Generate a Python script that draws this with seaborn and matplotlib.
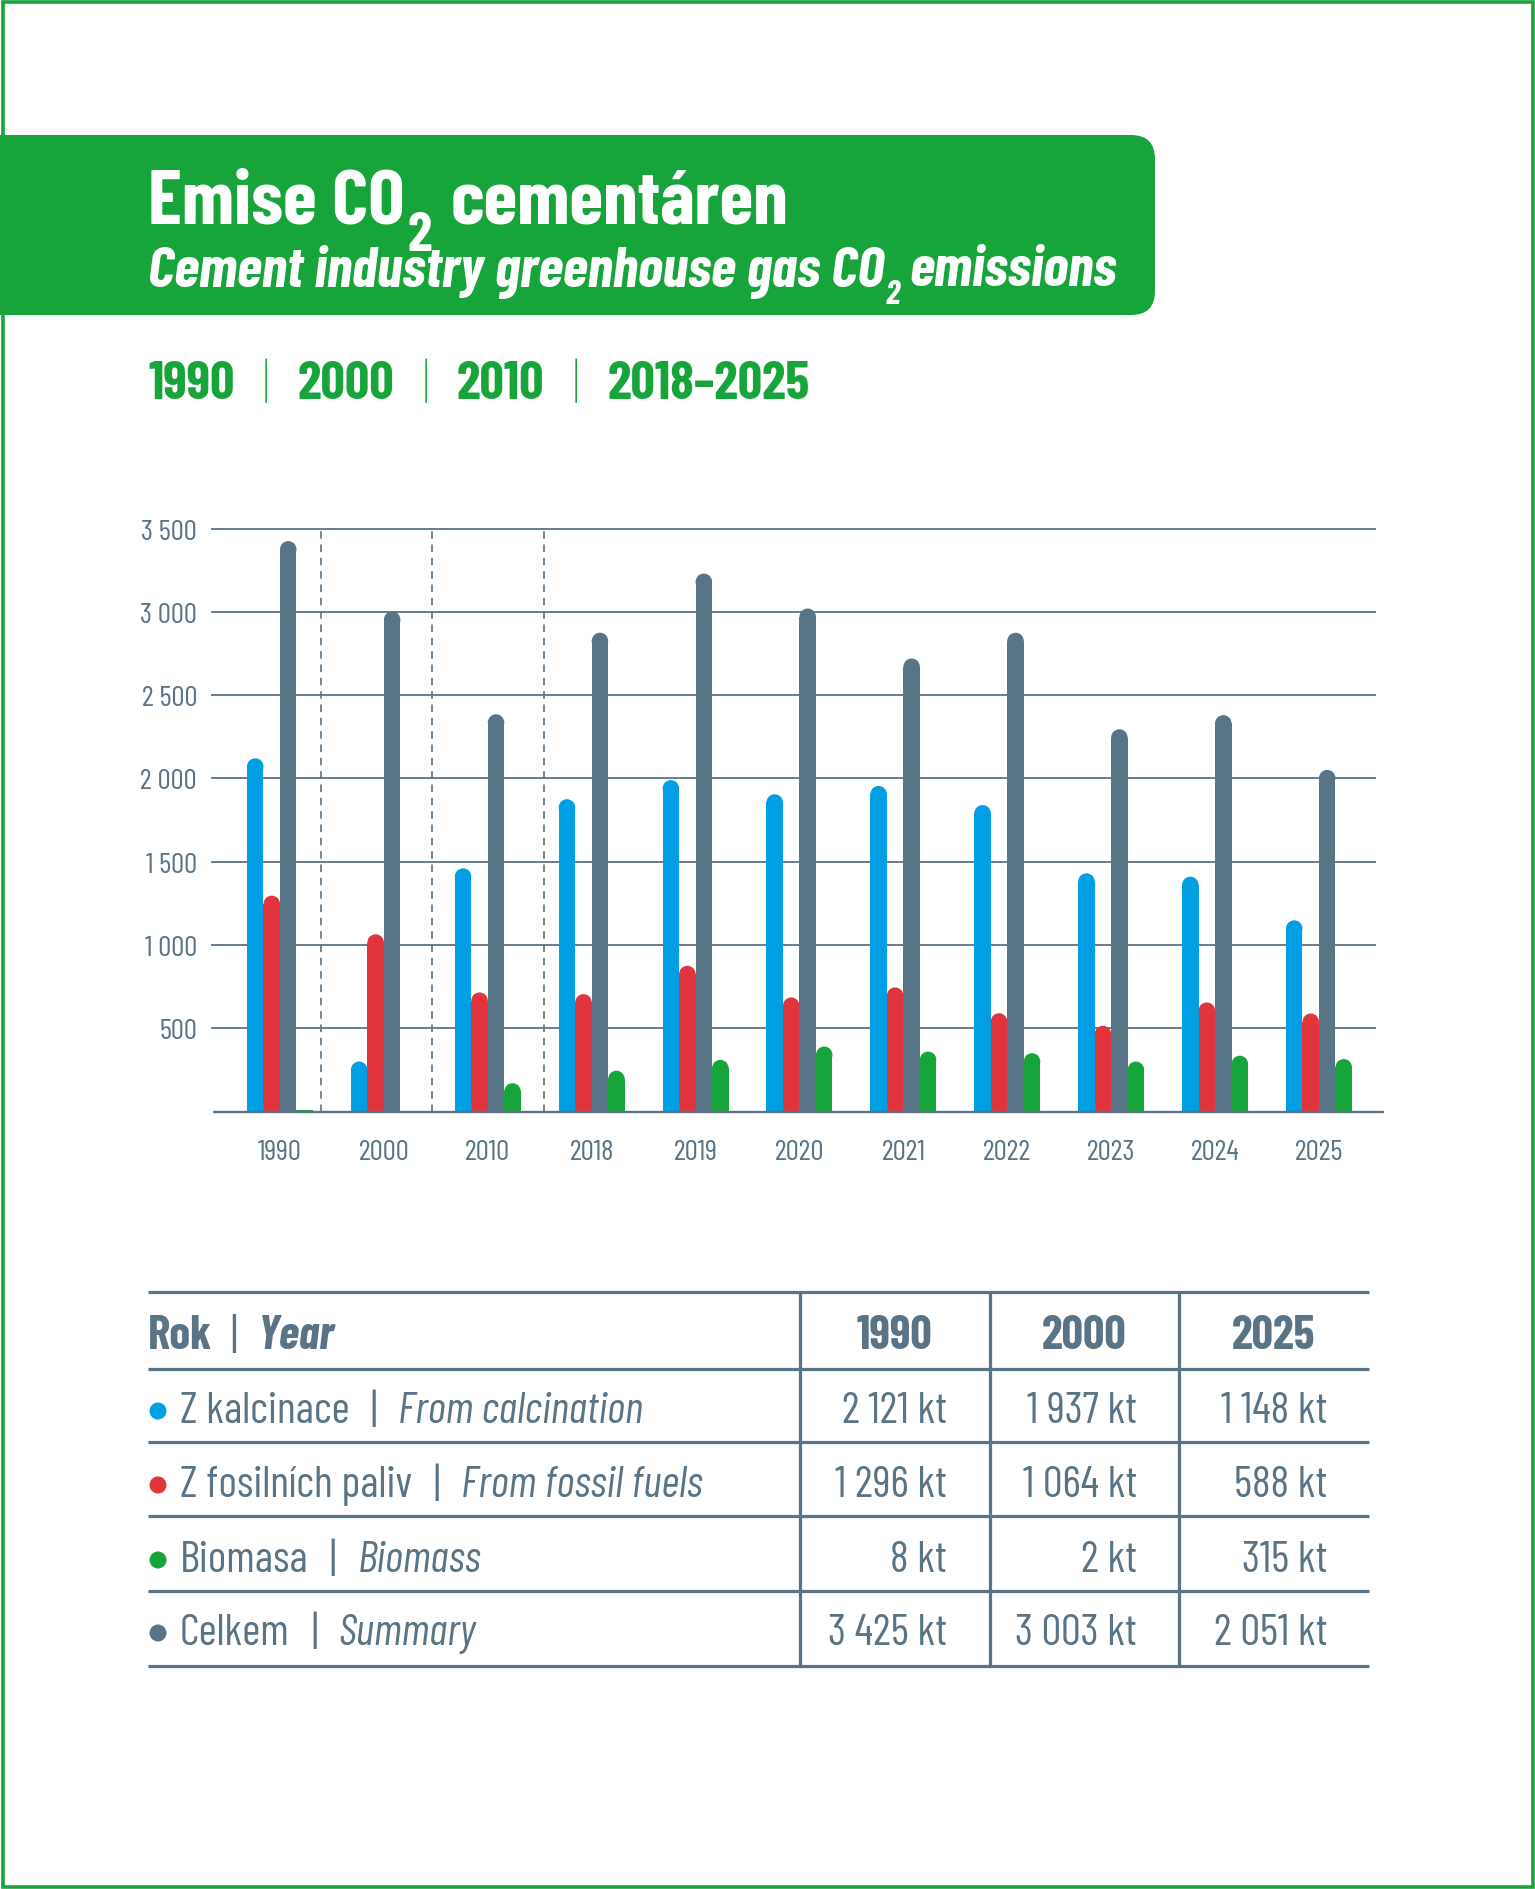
import numpy as np
import pandas as pd
import seaborn as sns
import matplotlib
matplotlib.use("Agg")
import matplotlib.pyplot as plt
from matplotlib import font_manager as fm
from matplotlib.patches import FancyBboxPatch, Rectangle, Ellipse, Circle
from matplotlib.lines import Line2D
from matplotlib.transforms import IdentityTransform

# ---------------- data ----------------
years = ['1990', '2000', '2010', '2018', '2019', '2020', '2021', '2022', '2023', '2024', '2025']
calcination = [2121, 300, 1460, 1875, 1990, 1905, 1955, 1840, 1430, 1410, 1148]
fossil = [1296, 1064, 715, 705, 875, 685, 745, 590, 515, 655, 588]
total = [3425, 3003, 2385, 2875, 3230, 3020, 2720, 2875, 2295, 2380, 2051]
biomass = [8, 2, 170, 245, 310, 390, 360, 350, 300, 335, 315]
series_order = ['Z kalcinace', 'Z fosilních paliv', 'Celkem', 'Biomasa']
y_ticks = [500, 1000, 1500, 2000, 2500, 3000, 3500]

year_groups = ['1990', '2000', '2010', '2018–2025']

table_years = ['1990', '2000', '2025']
row_cz = ['Z kalcinace', 'Z fosilních paliv', 'Biomasa', 'Celkem']
row_en = ['From calcination', 'From fossil fuels', 'Biomass', 'Summary']
tab_calc = [2121, 1937, 1148]
tab_fossil = [1296, 1064, 588]
tab_bio = [8, 2, 315]
tab_total = [3425, 3003, 2051]

# ---------------- style ----------------
W, H = 1535, 1890
sns.set_style("white")
font_names = {f.name for f in fm.fontManager.ttflist}
prefs = ['Barlow Condensed', 'Barlow Semi Condensed', 'Saira Condensed', 'Roboto Condensed',
         'Liberation Sans Narrow', 'Roboto', 'Liberation Sans']
FONT = next((n for n in prefs if n in font_names), 'DejaVu Sans')
plt.rcParams['font.family'] = [FONT, 'DejaVu Sans']

GREEN = '#17A43B'
SLATE = '#5A7486'
BLUE = '#009FE3'
RED = '#E1343C'
BARGREY = '#587587'
BARGREEN = '#16A53A'
palette = {'Z kalcinace': BLUE, 'Z fosilních paliv': RED, 'Celkem': BARGREY, 'Biomasa': BARGREEN}

fig = plt.figure(figsize=(W / 100, H / 100), dpi=100)
renderer = fig.canvas.get_renderer()


def fx(x):
    return x / W


def fy(y):
    return 1 - y / H


def fmt(v):
    return f"{v:,}".replace(',', ' ')


def chain(x, y, pieces, target_w=None, scale=None, max_scale=1.08):
    def draw(sc):
        arts = []
        cx = x
        end = x
        for s, kw in pieces:
            kw = dict(kw)
            size = kw.pop('size') * sc
            dy = kw.pop('dy', 0) * sc
            gap = kw.pop('gap', 0) * sc
            t = fig.text(fx(cx), fy(y + dy), s, fontsize=size, ha='left', va='baseline', **kw)
            arts.append(t)
            end = t.get_window_extent(renderer).x1
            cx = end + gap
        return arts, end
    sc = 1.0 if scale is None else scale
    arts, end = draw(sc)
    if scale is None and target_w is not None:
        sc = min(max_scale, target_w / (end - x))
        for a in arts:
            a.remove()
        arts, end = draw(sc)
    return sc, end


# ---------------- frame & banner ----------------
fig.add_artist(Rectangle((2.5, 2.5), W - 5, H - 5, transform=IdentityTransform(),
                         fill=False, edgecolor=GREEN, lw=2.6, zorder=1))
fig.add_artist(FancyBboxPatch((-60, H - 316), 1215, 180, boxstyle="round,pad=0,rounding_size=24",
                              transform=IdentityTransform(), facecolor=GREEN, edgecolor='none', zorder=2))

chain(148, 224, [('Emise CO', dict(size=53, weight='bold', color='white', gap=3, zorder=3)),
                 ('2', dict(size=38, weight='bold', color='white', dy=26, gap=18, zorder=3)),
                 ('cementáren', dict(size=53, weight='bold', color='white', zorder=3))],
      target_w=641)
chain(148, 286, [('Cement industry greenhouse gas CO', dict(size=40, weight='bold', style='italic', color='white', gap=2, zorder=3)),
                 ('2', dict(size=23, weight='bold', style='italic', color='white', dy=17, gap=9, zorder=3)),
                 ('emissions', dict(size=40, weight='bold', style='italic', color='white', zorder=3))],
      target_w=968)

yp = []
for i, g in enumerate(year_groups):
    yp.append((g, dict(size=41, weight='bold', color=GREEN, gap=30)))
    if i < len(year_groups) - 1:
        yp.append(('|', dict(size=41, weight='light', color=GREEN, gap=30)))
chain(148, 399, yp, target_w=663, max_scale=1.1)

# ---------------- chart ----------------
ax = fig.add_axes([211 / W, (H - 1112.5) / H, 1165 / W, 592.9 / H])
df = pd.DataFrame({
    'year': years * 4,
    'value': calcination + fossil + total + biomass,
    'series': sum([[s] * len(years) for s in series_order], []),
})
sns.barplot(data=df, x='year', y='value', hue='series', order=years, hue_order=series_order,
            palette=palette, width=0.635, saturation=1, errorbar=None, legend=False,
            linewidth=0, ax=ax, zorder=2)
ax.set_xlim(-0.664, 10.549)
ax.set_ylim(0, 3560)

# rounded tops
p0 = ax.transData.transform((0, 0))
p1 = ax.transData.transform((1, 1000))
px_x = p1[0] - p0[0]
px_y = (p1[1] - p0[1]) / 1000
for p in list(ax.patches):
    if not isinstance(p, Rectangle):
        continue
    w = p.get_width()
    h = p.get_height()
    ry = (w * px_x / 2) / px_y
    if h > ry:
        p.set_height(h - ry)
        ax.add_patch(Ellipse((p.get_x() + w / 2, h - ry), w, 2 * ry,
                             facecolor=p.get_facecolor(), edgecolor='none', zorder=2))

for v in y_ticks:
    ax.axhline(v, color=SLATE, lw=1.3, zorder=0.5)
ax.plot([0.003, 1.006], [0, 0], transform=ax.get_yaxis_transform(), color=SLATE,
        lw=1.7, clip_on=False, zorder=3)
ax.vlines([0.39, 1.465, 2.54], 0, 3500, colors=SLATE, linestyles=(0, (4.5, 3.5)), lw=1.2, zorder=0.5)

S_TICK = 21
ax.set_yticks(y_ticks)
ax.set_yticklabels([fmt(v) for v in y_ticks])
ax.tick_params(axis='both', length=0, labelsize=S_TICK, labelcolor=SLATE)
ax.tick_params(axis='y', pad=10)
ax.tick_params(axis='x', pad=20)
ax.set_xlabel('')
ax.set_ylabel('')
sns.despine(ax=ax, left=True, bottom=True)

# ---------------- table ----------------
L, R = 148.4, 1368.5
hlines = [1292.5, 1369.7, 1443.3, 1517.0, 1591.8, 1666.6]
vlines = [800.0, 989.6, 1179.0]
for yy in hlines:
    fig.add_artist(Line2D([fx(L), fx(R)], [fy(yy), fy(yy)], transform=fig.transFigure,
                          color=SLATE, lw=2.3, solid_capstyle='butt'))
for xx in vlines:
    fig.add_artist(Line2D([fx(xx), fx(xx)], [fy(hlines[0]), fy(hlines[-1])], transform=fig.transFigure,
                          color=SLATE, lw=2.3, solid_capstyle='butt'))

hsc, _ = chain(148, 1349, [('Rok', dict(size=37, weight='bold', color=SLATE, gap=20)),
                           ('|', dict(size=37, weight='normal', color=SLATE, gap=22)),
                           ('Year', dict(size=37, weight='bold', style='italic', color=SLATE))],
               target_w=187)
col_centers = [894, 1084, 1273]
for c, ty in zip(col_centers, table_years):
    fig.text(fx(c), fy(1349), ty, fontsize=37 * hsc, weight='bold', color=SLATE, ha='center', va='baseline')

row_base = [1423, 1497, 1572, 1645]
row_colors = [BLUE, RED, BARGREEN, BARGREY]
row_vals = [tab_calc, tab_fossil, tab_bio, tab_total]
rsc = None
order = [1, 0, 2, 3]
for i in order:
    pieces = [(row_cz[i], dict(size=30, color=SLATE, gap=20)),
              ('|', dict(size=30, weight='normal', color=SLATE, gap=20)),
              (row_en[i], dict(size=30, style='italic', color=SLATE))]
    if rsc is None:
        rsc, _ = chain(180, row_base[i], pieces, target_w=523)
    else:
        chain(180, row_base[i], pieces, scale=rsc)
for i in range(4):
    fig.add_artist(Circle((158, H - (row_base[i] - 11)), 8.5, transform=IdentityTransform(),
                          facecolor=row_colors[i], edgecolor='none'))
    for xr, v in zip([947, 1137, 1327.5], row_vals[i]):
        fig.text(fx(xr), fy(row_base[i]), fmt(v) + ' kt', fontsize=30 * rsc, color=SLATE,
                 ha='right', va='baseline')

fig.savefig('out.png', dpi=100)
